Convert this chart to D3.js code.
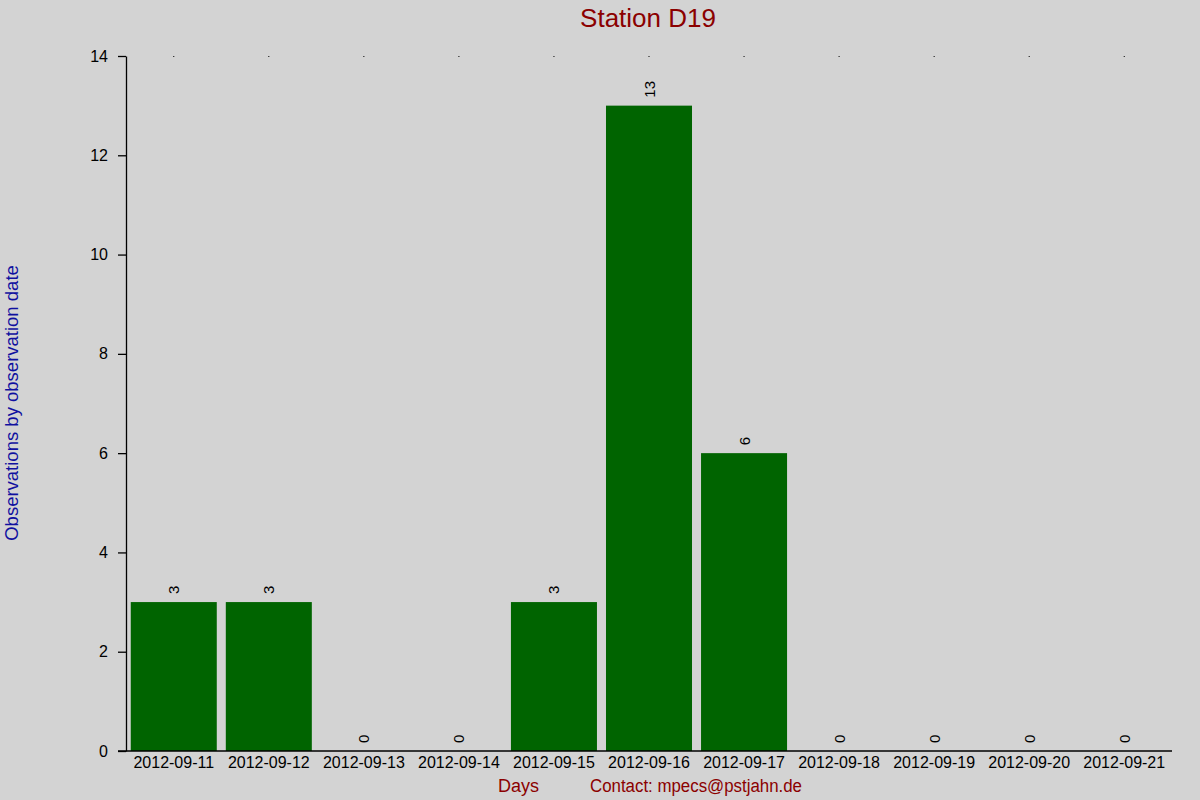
<!DOCTYPE html>
<html>
<head>
<meta charset="utf-8">
<script src="https://cdn.jsdelivr.net/npm/d3@7"></script>
<style>
  body { margin: 0; background: #d3d3d3; }
  svg { display: block; font-family: "Liberation Sans", Arial, sans-serif; }
</style>
</head>
<body>
<script>
// Werte pro Tag (aus dem Bild gelesen)
const days = ["2012-09-11", "2012-09-12", "2012-09-13", "2012-09-14", "2012-09-15",
  "2012-09-16", "2012-09-17", "2012-09-18", "2012-09-19", "2012-09-20", "2012-09-21"];
const counts = [3, 3, 0, 0, 3, 13, 6, 0, 0, 0, 0];
const yTicks = [0, 2, 4, 6, 8, 10, 12, 14];

const width = 1200;
const height = 800;
const margin = { top: 56, right: 28, bottom: 49, left: 126 };

const svg = d3.select("body").append("svg")
  .attr("width", width)
  .attr("height", height);

svg.append("rect")
  .attr("width", width)
  .attr("height", height)
  .attr("fill", "#d3d3d3");

const x = d3.scaleBand()
  .domain(days)
  .range([margin.left, width - margin.right])
  .paddingInner(0.095)
  .paddingOuter(0.05);

const y = d3.scaleLinear()
  .domain([0, 14])
  .range([height - margin.bottom, margin.top]);

// Balken
svg.append("g").selectAll("rect")
  .data(counts)
  .enter()
  .append("rect")
  .attr("x", (d, i) => x(days[i]))
  .attr("y", d => y(d))
  .attr("width", x.bandwidth())
  .attr("height", d => y(0) - y(d))
  .attr("fill", "#006400");

// Werte über den Balken, gedreht
svg.append("g").selectAll("text")
  .data(counts)
  .enter()
  .append("text")
  .attr("transform", (d, i) =>
    `translate(${x(days[i]) + x.bandwidth() / 2 + 5.5},${y(d) - 8}) rotate(-90)`)
  .attr("font-size", 15)
  .attr("fill", "#000")
  .text(d => d);

// kleine Punkte oben
svg.append("g").selectAll("rect")
  .data(days)
  .enter()
  .append("rect")
  .attr("x", d => x(d) + x.bandwidth() / 2 - 0.5)
  .attr("y", y(14))
  .attr("width", 1)
  .attr("height", 1)
  .attr("fill", "#000");

// y-Achse
const yAxis = svg.append("g")
  .attr("transform", `translate(${margin.left},0)`)
  .call(d3.axisLeft(y).tickValues(yTicks).tickSize(8).tickPadding(10).tickSizeOuter(0));
yAxis.select(".domain").attr("stroke", "#000").attr("stroke-width", 1.3);
yAxis.selectAll(".tick line").attr("stroke-width", 1.3);
yAxis.selectAll("text").attr("font-size", 16).attr("fill", "#000")
  .attr("font-family", "Liberation Sans, Arial, sans-serif");

// x-Achse
const xAxis = svg.append("g")
  .attr("transform", `translate(0,${y(0)})`)
  .call(d3.axisBottom(x).tickSize(0).tickPadding(6));
xAxis.select(".domain").remove();
xAxis.selectAll("text").attr("font-size", 16).attr("fill", "#000")
  .attr("font-family", "Liberation Sans, Arial, sans-serif");
svg.append("line")
  .attr("x1", margin.left - 8)
  .attr("x2", width - margin.right)
  .attr("y1", y(0))
  .attr("y2", y(0))
  .attr("stroke", "#000")
  .attr("stroke-width", 1.3);

// Titel und Beschriftungen
svg.append("text")
  .attr("x", 648)
  .attr("y", 27)
  .attr("text-anchor", "middle")
  .attr("font-size", 26)
  .attr("fill", "#8b0000")
  .text("Station D19");

svg.append("text")
  .attr("transform", "translate(18,403) rotate(-90)")
  .attr("text-anchor", "middle")
  .attr("font-size", 18.5)
  .attr("fill", "#1010a0")
  .text("Observations by observation date");

svg.append("text")
  .attr("x", 498)
  .attr("y", 792)
  .attr("font-size", 18)
  .attr("fill", "#8b0000")
  .text("Days");

svg.append("text")
  .attr("x", 590)
  .attr("y", 792)
  .attr("font-size", 18)
  .attr("textLength", 212)
  .attr("lengthAdjust", "spacingAndGlyphs")
  .attr("fill", "#8b0000")
  .text("Contact: mpecs@pstjahn.de");
</script>
</body>
</html>
